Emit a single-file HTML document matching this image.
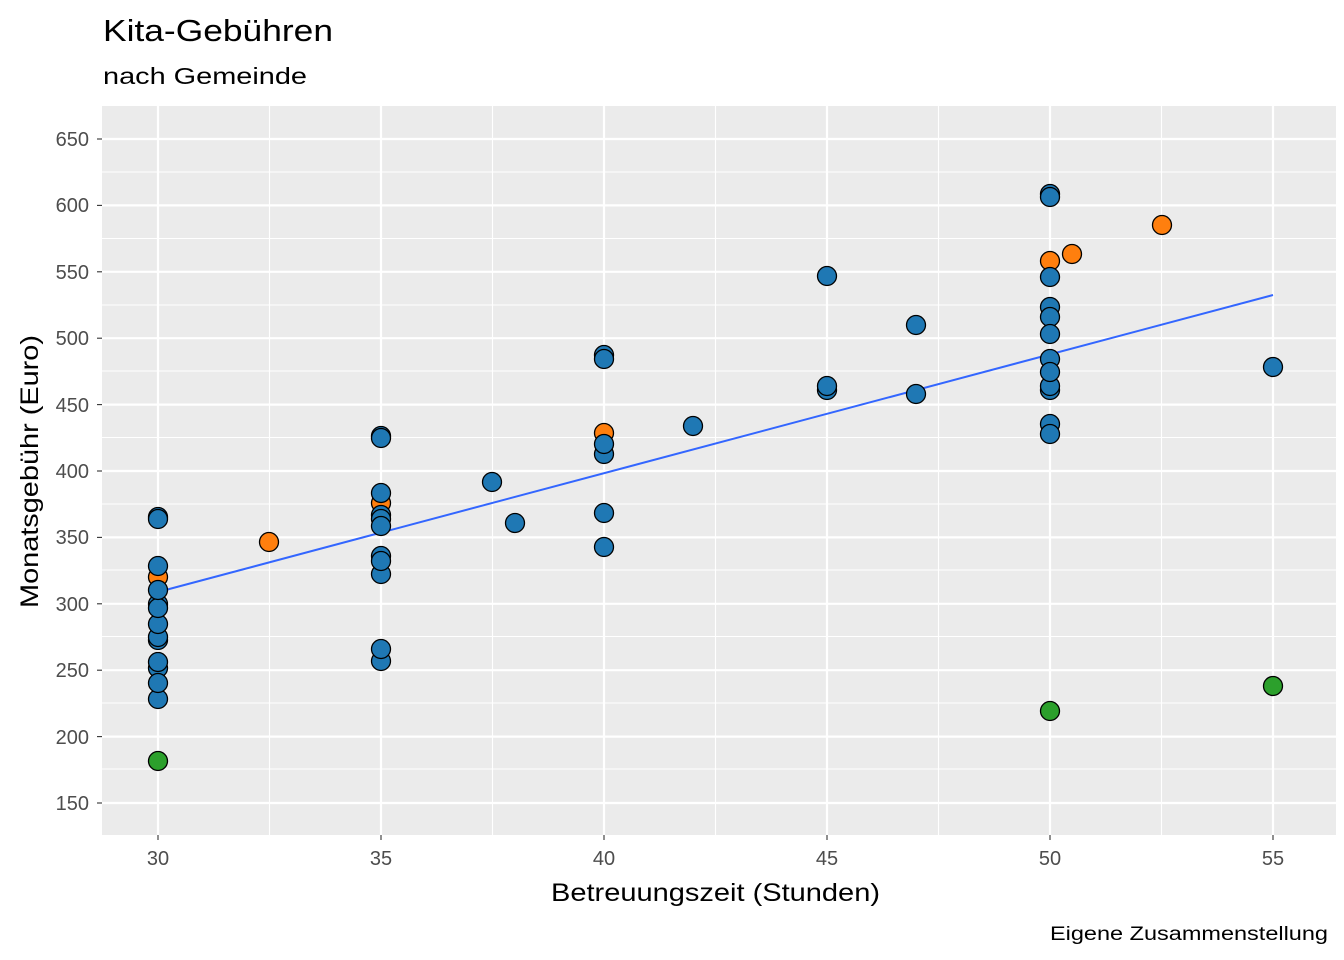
<!DOCTYPE html>
<html><head><meta charset="utf-8"><style>body{margin:0;background:#fff}svg{display:block}text{font-family:"Liberation Sans",sans-serif}</style></head><body>
<svg width="1344" height="960" xmlns="http://www.w3.org/2000/svg">
<rect width="1344" height="960" fill="#fff"/>
<text x="103" y="41" font-size="31" fill="#000" textLength="230" lengthAdjust="spacingAndGlyphs">Kita-Gebühren</text>
<text x="103" y="84" font-size="23" fill="#000" textLength="204" lengthAdjust="spacingAndGlyphs">nach Gemeinde</text>
<rect x="102" y="106" width="1234" height="729" fill="#ebebeb"/>
<g stroke="#fff" stroke-width="1.1">
<line x1="102" x2="1336" y1="172" y2="172"/><line x1="102" x2="1336" y1="238.5" y2="238.5"/><line x1="102" x2="1336" y1="305" y2="305"/><line x1="102" x2="1336" y1="371" y2="371"/><line x1="102" x2="1336" y1="437.5" y2="437.5"/><line x1="102" x2="1336" y1="504" y2="504"/><line x1="102" x2="1336" y1="570" y2="570"/><line x1="102" x2="1336" y1="636.5" y2="636.5"/><line x1="102" x2="1336" y1="703" y2="703"/><line x1="102" x2="1336" y1="769" y2="769"/>
<line y1="106" y2="835" x1="269.5" x2="269.5"/><line y1="106" y2="835" x1="492.5" x2="492.5"/><line y1="106" y2="835" x1="715.5" x2="715.5"/><line y1="106" y2="835" x1="938.5" x2="938.5"/><line y1="106" y2="835" x1="1161.5" x2="1161.5"/>
</g>
<g stroke="#fff" stroke-width="2.2">
<line x1="102" x2="1336" y1="139" y2="139"/><line x1="102" x2="1336" y1="205.4" y2="205.4"/><line x1="102" x2="1336" y1="271.8" y2="271.8"/><line x1="102" x2="1336" y1="338.2" y2="338.2"/><line x1="102" x2="1336" y1="404.6" y2="404.6"/><line x1="102" x2="1336" y1="471" y2="471"/><line x1="102" x2="1336" y1="537.4" y2="537.4"/><line x1="102" x2="1336" y1="603.8" y2="603.8"/><line x1="102" x2="1336" y1="670.2" y2="670.2"/><line x1="102" x2="1336" y1="736.6" y2="736.6"/><line x1="102" x2="1336" y1="803" y2="803"/>
<line y1="106" y2="835" x1="158" x2="158"/><line y1="106" y2="835" x1="381" x2="381"/><line y1="106" y2="835" x1="604" x2="604"/><line y1="106" y2="835" x1="827" x2="827"/><line y1="106" y2="835" x1="1050" x2="1050"/><line y1="106" y2="835" x1="1273" x2="1273"/>
</g>
<g stroke="#333" stroke-width="1.1">
<line x1="97" x2="102" y1="139" y2="139"/><line x1="97" x2="102" y1="205.4" y2="205.4"/><line x1="97" x2="102" y1="271.8" y2="271.8"/><line x1="97" x2="102" y1="338.2" y2="338.2"/><line x1="97" x2="102" y1="404.6" y2="404.6"/><line x1="97" x2="102" y1="471" y2="471"/><line x1="97" x2="102" y1="537.4" y2="537.4"/><line x1="97" x2="102" y1="603.8" y2="603.8"/><line x1="97" x2="102" y1="670.2" y2="670.2"/><line x1="97" x2="102" y1="736.6" y2="736.6"/><line x1="97" x2="102" y1="803" y2="803"/>
<line y1="835" y2="840" x1="158" x2="158"/><line y1="835" y2="840" x1="381" x2="381"/><line y1="835" y2="840" x1="604" x2="604"/><line y1="835" y2="840" x1="827" x2="827"/><line y1="835" y2="840" x1="1050" x2="1050"/><line y1="835" y2="840" x1="1273" x2="1273"/>
</g>
<g font-size="20" fill="#4d4d4d" text-anchor="end">
<text x="89" y="146">650</text><text x="89" y="212">600</text><text x="89" y="279">550</text><text x="89" y="345">500</text><text x="89" y="412">450</text><text x="89" y="478">400</text><text x="89" y="544">350</text><text x="89" y="611">300</text><text x="89" y="677">250</text><text x="89" y="744">200</text><text x="89" y="810">150</text>
</g>
<g font-size="20" fill="#4d4d4d" text-anchor="middle">
<text x="158" y="865">30</text><text x="381" y="865">35</text><text x="604" y="865">40</text><text x="827" y="865">45</text><text x="1050" y="865">50</text><text x="1273" y="865">55</text>
</g>
<text x="551" y="901" font-size="25" textLength="329" lengthAdjust="spacingAndGlyphs">Betreuungszeit (Stunden)</text>
<text transform="translate(38,608) rotate(-90)" font-size="25" textLength="273" lengthAdjust="spacingAndGlyphs">Monatsgebühr (Euro)</text>
<text x="1050" y="940" font-size="19" textLength="278" lengthAdjust="spacingAndGlyphs">Eigene Zusammenstellung</text>
<line x1="158" y1="592" x2="1273" y2="295" stroke="#3366ff" stroke-width="2"/>
<g stroke="#000" stroke-width="1.3">
<g fill="#ff7f0e">
<circle cx="158" cy="577" r="9.5"/><circle cx="269" cy="542" r="9.5"/><circle cx="381" cy="503" r="9.5"/><circle cx="604" cy="433" r="9.5"/><circle cx="1050" cy="261" r="9.5"/><circle cx="1072" cy="254" r="9.5"/><circle cx="1162" cy="225" r="9.5"/>
</g>
<g fill="#2ca02c">
<circle cx="158" cy="761" r="9.5"/><circle cx="1050" cy="711" r="9.5"/><circle cx="1273" cy="686" r="9.5"/>
</g>
<g fill="#1f78b4">
<circle cx="158" cy="517" r="9.5"/><circle cx="158" cy="519" r="9.5"/><circle cx="158" cy="566" r="9.5"/><circle cx="158" cy="699" r="9.5"/><circle cx="158" cy="668" r="9.5"/><circle cx="158" cy="683" r="9.5"/><circle cx="158" cy="662" r="9.5"/><circle cx="158" cy="640" r="9.5"/><circle cx="158" cy="637" r="9.5"/><circle cx="158" cy="624" r="9.5"/><circle cx="158" cy="604" r="9.5"/><circle cx="158" cy="608" r="9.5"/><circle cx="158" cy="590" r="9.5"/>
<circle cx="381" cy="436" r="9.5"/><circle cx="381" cy="438" r="9.5"/><circle cx="381" cy="493" r="9.5"/><circle cx="381" cy="515" r="9.5"/><circle cx="381" cy="519" r="9.5"/><circle cx="381" cy="526" r="9.5"/><circle cx="381" cy="556" r="9.5"/><circle cx="381" cy="574" r="9.5"/><circle cx="381" cy="561" r="9.5"/><circle cx="381" cy="661" r="9.5"/><circle cx="381" cy="649" r="9.5"/>
<circle cx="492" cy="482" r="9.5"/><circle cx="515" cy="523" r="9.5"/>
<circle cx="604" cy="355" r="9.5"/><circle cx="604" cy="359" r="9.5"/><circle cx="604" cy="454" r="9.5"/><circle cx="604" cy="444" r="9.5"/><circle cx="604" cy="513" r="9.5"/><circle cx="604" cy="547" r="9.5"/>
<circle cx="693" cy="426" r="9.5"/>
<circle cx="827" cy="276" r="9.5"/><circle cx="827" cy="390" r="9.5"/><circle cx="827" cy="386" r="9.5"/>
<circle cx="916" cy="325" r="9.5"/><circle cx="916" cy="394" r="9.5"/>
<circle cx="1050" cy="194" r="9.5"/><circle cx="1050" cy="197" r="9.5"/><circle cx="1050" cy="277" r="9.5"/><circle cx="1050" cy="307" r="9.5"/><circle cx="1050" cy="317" r="9.5"/><circle cx="1050" cy="334" r="9.5"/><circle cx="1050" cy="359" r="9.5"/><circle cx="1050" cy="390" r="9.5"/><circle cx="1050" cy="386" r="9.5"/><circle cx="1050" cy="372" r="9.5"/><circle cx="1050" cy="424" r="9.5"/><circle cx="1050" cy="434" r="9.5"/>
<circle cx="1273" cy="367" r="9.5"/>
</g>
</g>
</svg>
</body></html>
